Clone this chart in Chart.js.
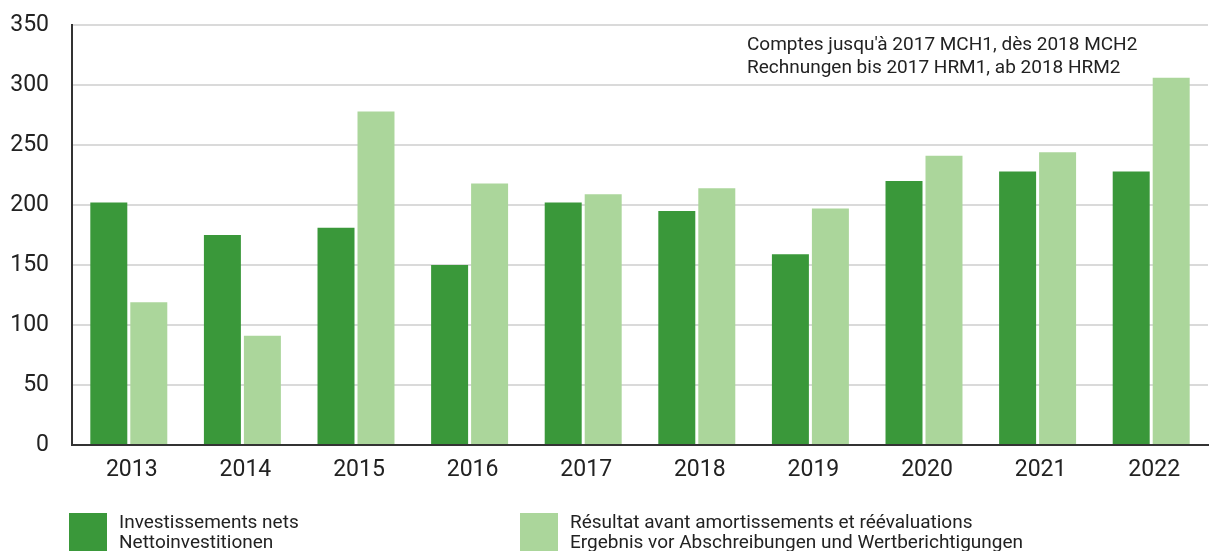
<!DOCTYPE html>
<html>
<head>
<meta charset="utf-8">
<script src="https://cdn.jsdelivr.net/npm/chart.js@4/dist/chart.umd.min.js"></script>
<style>
  html, body { margin: 0; padding: 0; background: #fff; }
  #wrap { position: relative; width: 1209px; height: 551px; overflow: hidden; font-family: Roboto, "DejaVu Sans", sans-serif; color: #222; }
  #c { position: absolute; left: 0; top: 0; }
  .note { position: absolute; left: 747px; top: 33px; font-size: 19px; line-height: 22.7px; white-space: nowrap; }
  .leg { position: absolute; top: 513px; width: 38px; height: 38px; }
  .legt { position: absolute; top: 512px; font-size: 19px; line-height: 20px; white-space: nowrap; }
</style>
</head>
<body>
<div id="wrap">
  <canvas id="c" width="1209" height="551"></canvas>
  <div class="note">Comptes jusqu'à 2017 MCH1, dès 2018 MCH2<br>Rechnungen bis 2017 HRM1, ab 2018 HRM2</div>
  <div class="leg" id="sq1" style="left:69px;"></div>
  <div class="legt" id="lt1" style="left:119px;"></div>
  <div class="leg" id="sq2" style="left:520px;"></div>
  <div class="legt" id="lt2" style="left:570px;"></div>
</div>
<script>
const categories = ['2013','2014','2015','2016','2017','2018','2019','2020','2021','2022'];
const netInvestments = [202, 175, 181, 150, 202, 195, 159, 220, 228, 228];
const resultBeforeDepreciation = [119, 91, 278, 218, 209, 214, 197, 241, 244, 306];
const seriesLabels = [
  ['Investissements nets', 'Nettoinvestitionen'],
  ['Résultat avant amortissements et réévaluations', 'Ergebnis vor Abschreibungen und Wertberichtigungen']
];
const yTicks = [0, 50, 100, 150, 200, 250, 300, 350];
const colors = ['#3a983a', '#abd69b'];

document.getElementById('sq1').style.background = colors[0];
document.getElementById('sq2').style.background = colors[1];
document.getElementById('lt1').innerHTML = seriesLabels[0].join('<br>');
document.getElementById('lt2').innerHTML = seriesLabels[1].join('<br>');

const tickFont = { family: 'Roboto, "DejaVu Sans", sans-serif', size: 23 };

new Chart(document.getElementById('c'), {
  type: 'bar',
  data: {
    labels: categories,
    datasets: [
      { label: seriesLabels[0].join(' / '), data: netInvestments, backgroundColor: colors[0], borderWidth: 0, barPercentage: 0.925, categoryPercentage: 0.704 },
      { label: seriesLabels[1].join(' / '), data: resultBeforeDepreciation, backgroundColor: colors[1], borderWidth: 0, barPercentage: 0.925, categoryPercentage: 0.704 }
    ]
  },
  options: {
    responsive: false,
    animation: false,
    layout: { padding: { top: 25, right: 1, left: 0, bottom: 0 } },
    plugins: { legend: { display: false }, tooltip: { enabled: false } },
    scales: {
      x: {
        grid: { display: false, drawTicks: false },
        border: { color: '#333', width: 2 },
        ticks: { color: '#222', font: tickFont, padding: 11, labelOffset: 3, maxRotation: 0 },
        afterFit: (s) => { s.height = 106; }
      },
      y: {
        min: 0, max: 350,
        afterBuildTicks: (s) => { s.ticks = yTicks.map(v => ({ value: v })); },
        grid: { color: '#dadada', lineWidth: 2, drawTicks: false },
        border: { color: '#333', width: 2 },
        ticks: { color: '#222', font: tickFont, padding: 23 },
        afterFit: (s) => { s.width = 72; s.paddingTop = 0; s.paddingBottom = 0; }
      }
    }
  }
});
</script>
</body>
</html>
